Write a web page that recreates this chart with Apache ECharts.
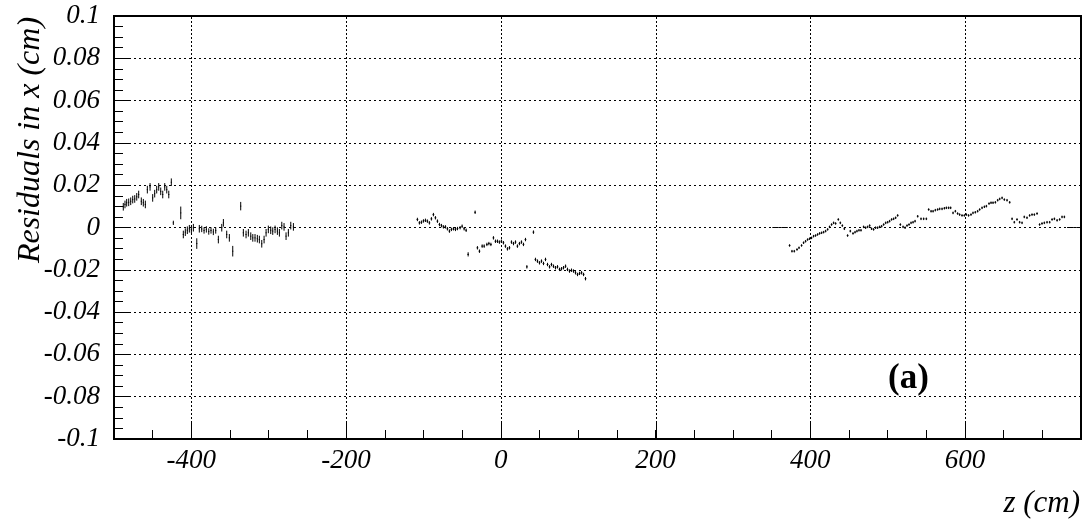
<!DOCTYPE html>
<html>
<head>
<meta charset="utf-8">
<script src="https://cdn.jsdelivr.net/npm/echarts@6/dist/echarts.min.js"></script>
<style>
  html, body { margin: 0; padding: 0; background: #fff; }
  #chart { width: 1084px; height: 522px; }
</style>
</head>
<body>
<div id="chart"></div>
<script>
// Residuals in x (cm) versus z (cm), one error bar per bin.

// Chamber group at negative z
const zLeft = [
  -488.0, -485.8, -483.6, -481.0, -478.4, -475.8, -473.2, -470.6, -468.1, -464.7,
  -462.1, -459.5, -456.9, -453.4, -450.0, -447.4, -444.8, -442.2, -439.6, -437.0,
  -434.4, -431.8, -429.2, -425.9, -423.3, -413.7, -410.4, -407.8, -405.2, -402.6,
  -400.0, -397.4, -393.0, -389.7, -386.6, -383.6, -380.6, -377.5, -374.6, -371.6,
  -368.5, -365.1, -360.7, -358.6, -354.3, -350.9, -346.5, -336.2, -332.8, -329.3,
  -326.3, -323.2, -320.6, -317.7, -314.7, -312.1, -309.0, -306.0, -303.4, -300.5,
  -297.4, -294.8, -291.8, -288.8, -286.2, -283.1, -280.2, -277.6, -274.6, -271.5,
  -268.1
];
const resLeft = [
  0.0098, 0.0109, 0.0117, 0.0119, 0.0124, 0.0132, 0.0135, 0.0145, 0.0156, 0.0124,
  0.0117, 0.0109, 0.0179, 0.0192, 0.0140, 0.0160, 0.0179, 0.0192, 0.0171, 0.0156,
  0.0192, 0.0179, 0.0156, 0.0214, 0.0022, 0.0069, -0.0033, -0.0022, -0.0013, -0.0006,
  -0.0009, -0.0001, -0.0076, -0.0006, -0.0007, -0.0014, -0.0009, -0.0019, -0.0014, -0.0021,
  -0.0014, -0.0057, -0.0001, 0.0022, -0.0033, -0.0049, -0.0112, 0.0101, -0.0025, -0.0033,
  -0.0025, -0.0041, -0.0049, -0.0049, -0.0053, -0.0057, -0.0077, -0.0057, -0.0025, -0.0009,
  -0.0013, -0.0017, -0.0009, -0.0017, -0.0025, 0.0009, 0.0003, -0.0041, -0.0025, 0.0009,
  0.0003
];
const errLeft = [
  0.0018, 0.0018, 0.0018, 0.0018, 0.0018, 0.0018, 0.0018, 0.0018, 0.0018, 0.0018,
  0.0018, 0.0018, 0.0018, 0.0018, 0.0018, 0.0018, 0.0018, 0.0018, 0.0018, 0.0018,
  0.0018, 0.0018, 0.0018, 0.0018, 0.0010, 0.0030, 0.0018, 0.0018, 0.0018, 0.0018,
  0.0018, 0.0018, 0.0025, 0.0018, 0.0015, 0.0015, 0.0015, 0.0015, 0.0015, 0.0015,
  0.0015, 0.0018, 0.0018, 0.0018, 0.0018, 0.0018, 0.0025, 0.0020, 0.0018, 0.0018,
  0.0018, 0.0018, 0.0018, 0.0018, 0.0018, 0.0018, 0.0018, 0.0018, 0.0018, 0.0018,
  0.0018, 0.0018, 0.0018, 0.0018, 0.0018, 0.0018, 0.0018, 0.0018, 0.0018, 0.0018,
  0.0018
];

// Central group around z = 0
const zMid = [
  -107.8, -105.2, -102.6, -100.0, -97.4, -94.9, -92.3, -89.7, -87.1, -84.5,
  -81.9, -79.3, -76.7, -74.2, -71.6, -69.0, -66.4, -63.8, -61.2, -58.6,
  -56.0, -52.6, -50.0, -47.4, -44.8, -42.2, -33.2, -30.2, -27.6, -24.1,
  -21.5, -18.0, -15.4, -12.8, -9.5, -6.9, -4.3, -1.8, 0.8, 3.4,
  6.0, 8.6, 11.2, 13.8, 16.4, 19.0, 21.5, 24.1, 26.7, 29.3,
  31.9, 33.7, 42.2, 44.8, 47.4, 50.0, 52.6, 55.2, 57.8, 60.4,
  63.0, 65.5, 68.1, 70.7, 73.3, 75.9, 78.5, 81.1, 83.7, 86.2,
  88.8, 91.4, 94.0, 96.6, 99.2, 101.8, 104.4, 107.0, 109.5
];
const resMid = [
  0.0038, 0.0022, 0.0025, 0.0031, 0.0034, 0.0030, 0.0022, 0.0041, 0.0061, 0.0046,
  0.0030, 0.0014, 0.0009, 0.0003, 0.0003, -0.0006, -0.0017, -0.0009, -0.0006, -0.0009,
  -0.0005, -0.0001, 0.0006, -0.0006, -0.0013, -0.0127, 0.0072, -0.0096, -0.0112, -0.0088,
  -0.0088, -0.0080, -0.0076, -0.0080, -0.0049, -0.0065, -0.0065, -0.0069, -0.0065, -0.0072,
  -0.0088, -0.0101, -0.0096, -0.0069, -0.0076, -0.0069, -0.0088, -0.0076, -0.0069, -0.0080,
  -0.0057, -0.0186, -0.0022, -0.0151, -0.0159, -0.0167, -0.0159, -0.0170, -0.0151, -0.0175,
  -0.0186, -0.0175, -0.0183, -0.0190, -0.0186, -0.0198, -0.0195, -0.0190, -0.0183, -0.0198,
  -0.0206, -0.0202, -0.0206, -0.0214, -0.0222, -0.0217, -0.0214, -0.0222, -0.0242
];
const errMid = [
  0.0008, 0.0008, 0.0008, 0.0008, 0.0008, 0.0008, 0.0008, 0.0008, 0.0008, 0.0008,
  0.0008, 0.0008, 0.0008, 0.0008, 0.0008, 0.0008, 0.0008, 0.0008, 0.0008, 0.0008,
  0.0008, 0.0008, 0.0008, 0.0008, 0.0008, 0.0010, 0.0008, 0.0008, 0.0008, 0.0008,
  0.0008, 0.0008, 0.0008, 0.0008, 0.0008, 0.0008, 0.0008, 0.0008, 0.0008, 0.0008,
  0.0008, 0.0008, 0.0008, 0.0008, 0.0008, 0.0008, 0.0008, 0.0008, 0.0008, 0.0008,
  0.0008, 0.0008, 0.0008, 0.0008, 0.0008, 0.0008, 0.0008, 0.0008, 0.0008, 0.0008,
  0.0008, 0.0008, 0.0008, 0.0008, 0.0008, 0.0008, 0.0008, 0.0008, 0.0008, 0.0008,
  0.0008, 0.0008, 0.0008, 0.0008, 0.0008, 0.0008, 0.0008, 0.0008, 0.0008
];

// Chamber group at positive z
const zRight = [
  373.3, 376.4, 379.4, 382.9, 385.5, 388.8, 391.4, 394.0, 396.6, 399.2,
  401.7, 404.3, 406.9, 409.5, 412.1, 414.7, 417.3, 419.9, 422.5, 425.0,
  427.6, 430.2, 432.8, 436.3, 438.9, 441.5, 444.1, 448.3, 451.8, 455.3,
  457.9, 460.4, 463.0, 465.6, 469.0, 471.6, 474.2, 476.8, 479.3, 481.9,
  484.5, 487.1, 489.7, 492.3, 494.9, 497.5, 500.1, 502.6, 505.2, 507.8,
  510.4, 513.0, 516.5, 520.0, 522.6, 525.1, 527.7, 530.3, 532.9, 535.5,
  538.9, 543.2, 546.6, 550.1, 553.1, 556.2, 558.8, 561.7, 564.7, 567.3,
  570.4, 573.4, 576.0, 578.9, 581.5, 584.6, 587.6, 590.5, 593.1, 596.2,
  599.2, 601.8, 604.7, 607.8, 610.4, 613.4, 616.4, 619.0, 622.1, 625.1,
  627.7, 631.1, 633.7, 636.3, 639.3, 642.3, 644.9, 648.0, 650.9, 654.4,
  657.8, 660.9, 663.8, 667.3, 670.7, 673.8, 676.7, 680.2, 683.6, 686.7,
  689.7, 693.2, 696.5, 699.6, 702.6, 706.1, 709.5, 712.6, 715.6, 719.1,
  722.4, 725.5, 728.5
];
const resRight = [
  -0.0085, -0.0112, -0.0112, -0.0104, -0.0096, -0.0085, -0.0072, -0.0065, -0.0057, -0.0053,
  -0.0049, -0.0041, -0.0038, -0.0033, -0.0028, -0.0025, -0.0022, -0.0017, -0.0009, 0.0003,
  0.0014, 0.0022, 0.0019, 0.0038, 0.0022, 0.0009, -0.0006, -0.0038, -0.0017, -0.0028,
  -0.0022, -0.0017, -0.0013, -0.0013, 0.0003, -0.0001, 0.0003, 0.0009, -0.0006, -0.0009,
  -0.0001, -0.0001, 0.0003, 0.0006, 0.0014, 0.0022, 0.0025, 0.0030, 0.0038, 0.0041,
  0.0046, 0.0057, 0.0014, 0.0003, -0.0001, 0.0009, 0.0014, 0.0022, 0.0025, 0.0030,
  0.0053, 0.0041, 0.0041, 0.0041, 0.0085, 0.0077, 0.0077, 0.0082, 0.0085, 0.0088,
  0.0088, 0.0091, 0.0093, 0.0093, 0.0093, 0.0069, 0.0077, 0.0066, 0.0061, 0.0057,
  0.0057, 0.0061, 0.0057, 0.0061, 0.0069, 0.0072, 0.0077, 0.0085, 0.0093, 0.0098,
  0.0101, 0.0113, 0.0117, 0.0117, 0.0119, 0.0129, 0.0135, 0.0140, 0.0132, 0.0129,
  0.0119, 0.0041, 0.0025, 0.0038, 0.0025, 0.0022, 0.0050, 0.0046, 0.0057, 0.0061,
  0.0061, 0.0066, 0.0014, 0.0019, 0.0022, 0.0025, 0.0025, 0.0038, 0.0041, 0.0034,
  0.0038, 0.0050, 0.0050
];
const errRight = [
  0.0006, 0.0006, 0.0006, 0.0006, 0.0006, 0.0006, 0.0006, 0.0006, 0.0006, 0.0006,
  0.0006, 0.0006, 0.0006, 0.0006, 0.0006, 0.0006, 0.0006, 0.0006, 0.0006, 0.0006,
  0.0006, 0.0006, 0.0006, 0.0006, 0.0006, 0.0006, 0.0006, 0.0006, 0.0006, 0.0006,
  0.0006, 0.0006, 0.0006, 0.0006, 0.0006, 0.0006, 0.0006, 0.0006, 0.0006, 0.0006,
  0.0006, 0.0006, 0.0006, 0.0006, 0.0006, 0.0006, 0.0006, 0.0006, 0.0006, 0.0006,
  0.0006, 0.0006, 0.0006, 0.0006, 0.0006, 0.0006, 0.0006, 0.0006, 0.0006, 0.0006,
  0.0006, 0.0006, 0.0006, 0.0006, 0.0006, 0.0006, 0.0006, 0.0006, 0.0006, 0.0006,
  0.0006, 0.0006, 0.0006, 0.0006, 0.0006, 0.0006, 0.0006, 0.0006, 0.0006, 0.0006,
  0.0006, 0.0006, 0.0006, 0.0006, 0.0006, 0.0006, 0.0006, 0.0006, 0.0006, 0.0006,
  0.0006, 0.0006, 0.0006, 0.0006, 0.0006, 0.0006, 0.0006, 0.0006, 0.0006, 0.0006,
  0.0006, 0.0006, 0.0006, 0.0006, 0.0006, 0.0006, 0.0006, 0.0006, 0.0006, 0.0006,
  0.0006, 0.0006, 0.0006, 0.0006, 0.0006, 0.0006, 0.0006, 0.0006, 0.0006, 0.0006,
  0.0006, 0.0006, 0.0006
];

// Empty bins, drawn at zero without an error bar
const zEmpty = [353, 357, 361, 365, 369, 734, 738, 742, 746, 750];

// Axis ranges and labelled tick positions
const zRange = [-500, 750];
const resRange = [-0.1, 0.1];
const zLabelled = [-400, -200, 0, 200, 400, 600];

const FONT = '"Liberation Serif", "Times New Roman", serif';
const INK = '#000';

function errorBars(halfWidth) {
  return function (params, api) {
    const z = api.value(0), v = api.value(1), e = api.value(2);
    const style = { stroke: INK, lineWidth: 1 };
    const l = api.coord([z - halfWidth, v]);
    const r = api.coord([z + halfWidth, v]);
    const children = [{ type: 'line', shape: { x1: l[0], y1: l[1], x2: r[0], y2: r[1] }, style }];
    if (e > 0) {
      const lo = api.coord([z, v - e]);
      const hi = api.coord([z, v + e]);
      children.push({ type: 'line', shape: { x1: lo[0], y1: lo[1], x2: hi[0], y2: hi[1] }, style });
    }
    return { type: 'group', children };
  };
}

function zGridLines(params, api) {
  const z = api.value(0);
  const b = api.coord([z, resRange[0]]);
  const t = api.coord([z, resRange[1]]);
  const x = Math.round(b[0]) + 0.5;
  return {
    type: 'group',
    children: [
      { type: 'line', shape: { x1: x, y1: b[1], x2: x, y2: t[1] },
        style: { stroke: INK, lineWidth: 1, lineDash: [2, 2] } },
      { type: 'line', shape: { x1: x, y1: b[1], x2: x, y2: b[1] - 16 },
        style: { stroke: INK, lineWidth: 1 } }
    ]
  };
}

const chart = echarts.init(document.getElementById('chart'), null, { renderer: 'canvas' });

chart.setOption({
  animation: false,
  backgroundColor: '#fff',
  grid: {
    left: 114, right: 3, top: 16, bottom: 83,
    show: true, borderColor: INK, borderWidth: 2, backgroundColor: 'transparent',
    outerBoundsMode: 'none'
  },
  xAxis: {
    type: 'value',
    min: zRange[0], max: zRange[1], interval: 50,
    axisLine: { show: false, onZero: false },
    axisTick: { show: true, inside: true, length: 9, lineStyle: { color: INK, width: 1 } },
    splitLine: { show: false },
    axisLabel: {
      margin: 8,
      fontFamily: FONT, fontStyle: 'italic', fontSize: 27, color: INK,
      showMinLabel: true, showMaxLabel: true,
      formatter: v => (zLabelled.indexOf(Math.round(v)) >= 0 ? String(Math.round(v)) : '')
    }
  },
  yAxis: {
    type: 'value',
    min: resRange[0], max: resRange[1], interval: 0.02,
    axisLine: { show: false, onZero: false },
    axisTick: { show: true, inside: true, length: 16, lineStyle: { color: INK, width: 1 } },
    minorTick: { show: true, splitNumber: 4, length: 9, lineStyle: { color: INK, width: 1 } },
    splitLine: { show: true, lineStyle: { color: INK, width: 1, type: [2, 3] } },
    axisLabel: {
      margin: 14,
      fontFamily: FONT, fontStyle: 'italic', fontSize: 27, color: INK,
      formatter: v => String(Math.round(v * 100) / 100)
    }
  },
  series: [
    {
      type: 'custom', name: 'grid', silent: true, z: 1,
      data: zLabelled.map(z => [z, 0]),
      encode: { x: 0, y: 1 },
      renderItem: zGridLines
    },
    {
      type: 'custom', name: 'left', silent: true, z: 3,
      data: zLeft.map((z, i) => [z, resLeft[i], errLeft[i]]),
      encode: { x: 0, y: 1 },
      renderItem: errorBars(0.7)
    },
    {
      type: 'custom', name: 'middle', silent: true, z: 3,
      data: zMid.map((z, i) => [z, resMid[i], errMid[i]]),
      encode: { x: 0, y: 1 },
      renderItem: errorBars(1.1)
    },
    {
      type: 'custom', name: 'right', silent: true, z: 3,
      data: zRight.map((z, i) => [z, resRight[i], errRight[i]]),
      encode: { x: 0, y: 1 },
      renderItem: errorBars(1.1)
    },
    {
      type: 'custom', name: 'empty', silent: true, z: 3, clip: true,
      data: zEmpty.map(z => [z, 0, 0]),
      encode: { x: 0, y: 1 },
      renderItem: errorBars(2)
    }
  ],
  graphic: [
    {
      type: 'text', x: 31, y: 140, rotation: Math.PI / 2,
      style: { text: 'Residuals in x (cm)', font: 'italic 32px ' + FONT, fill: INK,
               align: 'center', verticalAlign: 'middle' }
    },
    {
      type: 'text', x: 1080, y: 504,
      style: { text: 'z (cm)', font: 'italic 31px ' + FONT, fill: INK,
               align: 'right', verticalAlign: 'middle' }
    },
    {
      type: 'text', x: 888, y: 379,
      style: { text: '(a)', font: 'bold 35px ' + FONT, fill: INK,
               align: 'left', verticalAlign: 'middle' }
    }
  ]
});
</script>
</body>
</html>
